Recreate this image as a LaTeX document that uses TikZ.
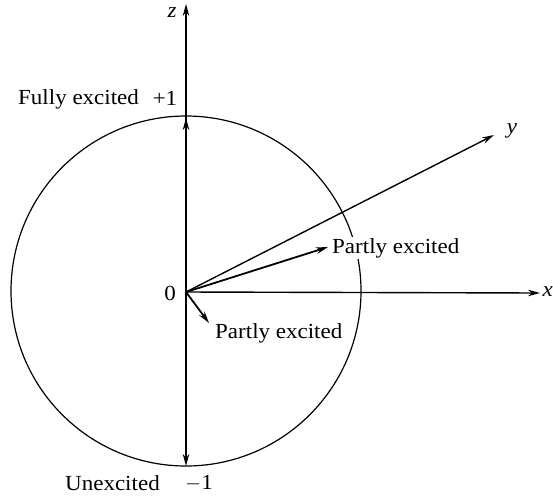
\documentclass[tikz,border=0pt]{standalone}
\usepackage{fontspec}
\setmainfont{Liberation Serif}[FakeStretch=1.07]
\usetikzlibrary{arrows.meta}
\begin{document}
\begin{tikzpicture}[x=1pt,y=-1pt,
  lbl/.style={font=\fontsize{21.5}{25}\selectfont, inner sep=1pt},
  ilbl/.style={font=\fontsize{21.5}{25}\selectfont\itshape, inner sep=0pt},
  ax/.style={line width=1.4pt, -{Stealth[length=12pt,width=6.5pt]}},
  vec/.style={line width=1.8pt, -{Stealth[length=12pt,width=6.5pt]}}]
\useasboundingbox (0,0) rectangle (553,496);
\coordinate (O) at (186,292);
\coordinate (ztop) at (186,4);
\coordinate (zplus) at (186,118);
\coordinate (zminus) at (186,466);
\coordinate (xend) at (540,293);
\coordinate (yend) at (494,135);
\coordinate (p1) at (328,247);
\coordinate (p2) at (209,323);
\node[draw, circle, line width=1.2pt, minimum size=350pt, inner sep=0pt] (circ) at (186,291) {};
\draw[ax] (O) -- (ztop);
\draw[ax] (O) -- (xend);
\draw[ax] (O) -- (yend);
\draw[vec] (O) -- (zplus);
\draw[vec] (O) -- (zminus);
\draw[vec] (O) -- (p1);
\draw[vec] (O) -- (p2);
\node[ilbl] (zl) at (172,13) {z};
\node[ilbl] (yl) at (512,131) {y};
\node[ilbl, anchor=east] (xl) at (553,292) {x};
\node[lbl] (ol) at (170,293) {0};
\node[lbl, anchor=west] (fully) at (17,99) {Fully excited};
\node[lbl] (plus) at (165,98) {+1};
\node[lbl, anchor=west] (unex) at (64,483) {Unexcited};
\node[lbl] (minus) at (199,483) {$-$1};
\node[lbl, anchor=west, fill=white] (pe1) at (331,248) {Partly excited};
\node[lbl, anchor=west] (pe2) at (214,333) {Partly excited};
\end{tikzpicture}
\end{document}
